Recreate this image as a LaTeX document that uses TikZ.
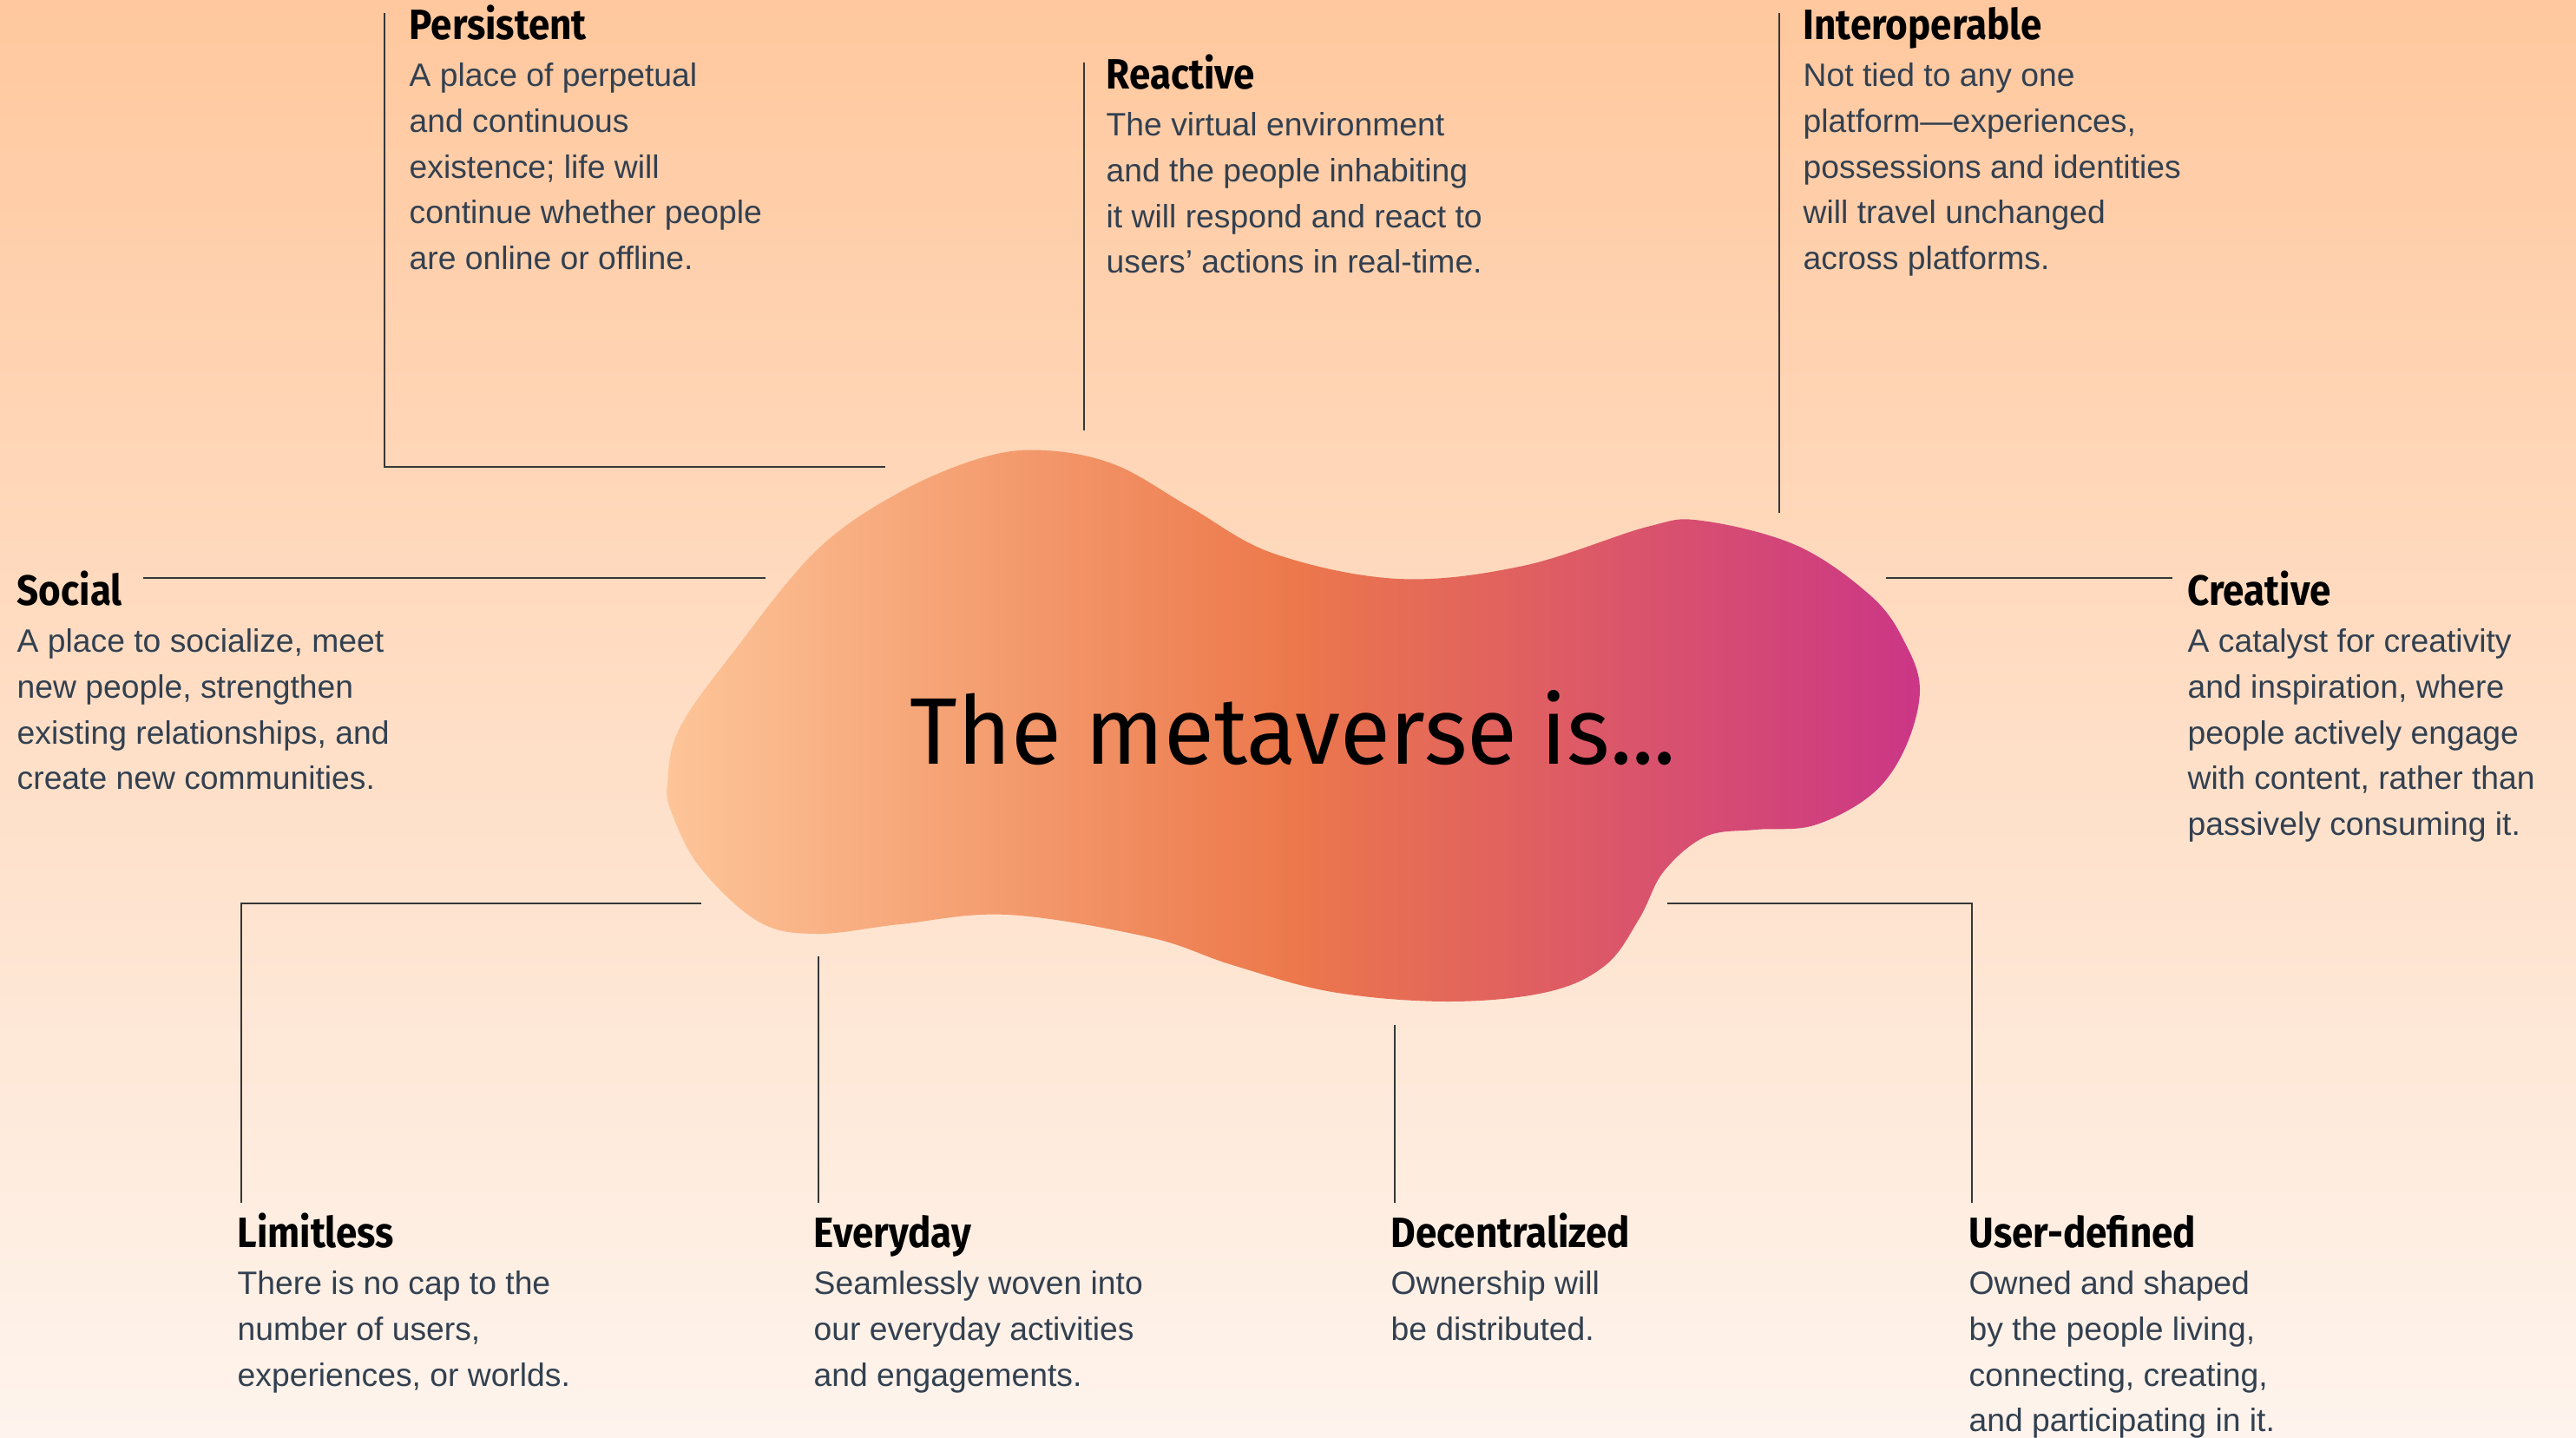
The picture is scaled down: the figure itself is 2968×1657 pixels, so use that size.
\documentclass[tikz,border=0pt]{standalone}
\usepackage{fontspec}
\setmainfont{Liberation Sans}
\newfontfamily\headfont[FakeStretch=0.9]{Fira Sans}
\newfontfamily\titlefont[FakeStretch=0.97]{Fira Sans}
\usetikzlibrary{calc}
\definecolor{BgTop}{RGB}{255,200,158}
\definecolor{BgBot}{RGB}{254,244,237}
\definecolor{BlobL}{RGB}{253,197,152}
\definecolor{BlobM}{RGB}{236,120,75}
\definecolor{BlobR}{RGB}{203,54,134}
\definecolor{BodyClr}{RGB}{50,64,80}
\definecolor{LineClr}{RGB}{55,55,55}

\tikzset{
  head/.style={anchor=base west,inner sep=0pt,font=\headfont\bfseries\fontsize{13.9}{16}\selectfont},
  body/.style={anchor=north west,inner sep=0pt,align=left,text=BodyClr,font=\fontsize{10.6}{15}\selectfont},
  lead/.style={draw=LineClr,line width=0.6pt},
}
\newcommand\feature[5]{%
  \node[head] (#1) at (#2,#3) {#4};
  \node[body] (#1txt) at ($(#1.base west)+(0,27)$) {#5};}

\begin{document}
\begin{tikzpicture}[x=0.01cm,y=-0.01cm]
\useasboundingbox (0,0) rectangle (2968,1657);
\shade[top color=BgTop,bottom color=BgBot] (0,0) rectangle (2968,1657);

\shade[left color=BlobL,right color=BlobR,middle color=BlobM]
  plot[smooth cycle,tension=0.6] coordinates {(769,902) (783,839) (846,750) (941,634) (1037,567)
  (1133,527) (1205,519) (1286,536) (1372,585) (1468,638) (1611,667) (1755,652) (1898,607)
  (1961,600) (2071,629) (2157,688) (2195,741) (2212,795) (2195,862) (2157,915) (2090,951)
  (2023,956) (1965,964) (1917,1004) (1889,1058) (1850,1112) (1783,1143) (1669,1154)
  (1535,1143) (1420,1112) (1324,1080) (1161,1054) (1037,1065) (941,1076) (874,1062)
  (807,1000) (774,937)};
\node[anchor=base,inner sep=0pt,font=\titlefont\fontsize{31}{36}\selectfont] (title) at (1490,880) {The metaverse is...};

\feature{persistent}{471}{45}{Persistent}{A place of perpetual\\and continuous\\existence; life will\\continue whether people\\are online or offline.}
\feature{reactive}{1274}{102}{Reactive}{The virtual environment\\and the people inhabiting\\it will respond and react to\\users’ actions in real-time.}
\feature{interop}{2077}{45}{Interoperable}{Not tied to any one\\platform—experiences,\\possessions and identities\\will travel unchanged\\across platforms.}
\feature{social}{19}{697}{Social}{A place to socialize, meet\\new people, strengthen\\existing relationships, and\\create new communities.}
\feature{creative}{2520}{697}{Creative}{A catalyst for creativity\\and inspiration, where\\people actively engage\\with content, rather than\\passively consuming it.}
\feature{limitless}{273}{1437}{Limitless}{There is no cap to the\\number of users,\\experiences, or worlds.}
\feature{everyday}{937}{1437}{Everyday}{Seamlessly woven into\\our everyday activities\\and engagements.}
\feature{decentral}{1602}{1437}{Decentralized}{Ownership will\\be distributed.}
\feature{userdef}{2268}{1437}{User-defined}{Owned and shaped\\by the people living,\\connecting, creating,\\and participating in it.}

\coordinate (persA) at (443,15);   \coordinate (persB) at (1020,538);
\coordinate (reacA) at (1249,72);  \coordinate (reacB) at (1249,496);
\coordinate (inteA) at (2050,15);  \coordinate (inteB) at (2050,591);
\coordinate (sociA) at (165,666);  \coordinate (sociB) at (882,666);
\coordinate (creaA) at (2173,666); \coordinate (creaB) at (2503,666);
\coordinate (limiA) at (808,1041); \coordinate (limiB) at (278,1386);
\coordinate (everA) at (943,1102); \coordinate (everB) at (943,1386);
\coordinate (deceA) at (1607,1181);\coordinate (deceB) at (1607,1386);
\coordinate (userA) at (1921,1041);\coordinate (userB) at (2272,1386);

\draw[lead] (persA) |- (persB);
\draw[lead] (reacA) -- (reacB);
\draw[lead] (inteA) -- (inteB);
\draw[lead] (sociA) -- (sociB);
\draw[lead] (creaA) -- (creaB);
\draw[lead] (limiA) -| (limiB);
\draw[lead] (everA) -- (everB);
\draw[lead] (deceA) -- (deceB);
\draw[lead] (userA) -| (userB);
\end{tikzpicture}
\end{document}
